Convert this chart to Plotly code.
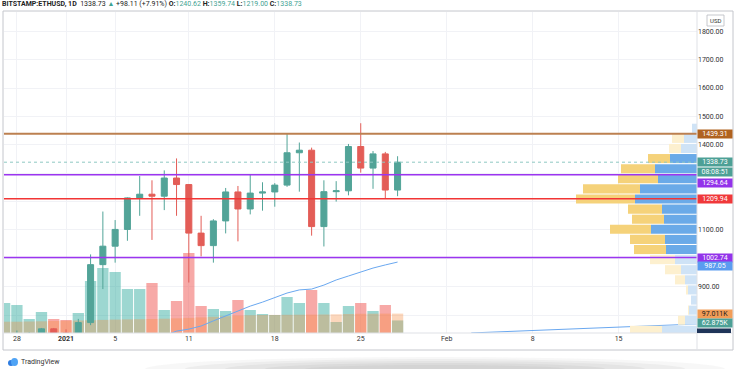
import plotly.graph_objects as go
import pandas as pd

# ---------------- data ----------------
dates = pd.date_range("2020-12-27", "2021-01-28", freq="D")
open_ = [636, 684, 731, 732, 752, 737, 730, 774, 978, 1043, 1102, 1213, 1226, 1219, 1283, 1260,
         1089, 1045, 1132, 1234, 1174, 1230, 1234, 1258, 1372, 1381, 1112, 1235, 1238, 1394,
         1318, 1368, 1240.62]
high = [690, 746, 740, 755, 755, 750, 787, 1014, 1165, 1135, 1215, 1290, 1275, 1310, 1352, 1262,
        1150, 1138, 1248, 1255, 1296, 1268, 1265, 1440, 1408, 1390, 1275, 1272, 1403, 1476,
        1378, 1375, 1359.74]
low = [622, 682, 692, 716, 718, 716, 715, 765, 892, 985, 1062, 1150, 1065, 1170, 1150, 915,
       1007, 985, 1088, 1060, 1155, 1168, 1182, 1252, 1235, 1080, 1042, 1200, 1222, 1302,
       1245, 1210, 1219.00]
close = [684, 731, 732, 752, 737, 730, 774, 978, 1043, 1102, 1213, 1226, 1219, 1283, 1260, 1089,
         1045, 1132, 1234, 1174, 1230, 1234, 1258, 1372, 1381, 1112, 1235, 1238, 1394, 1318,
         1368, 1240.62, 1338.73]
volume = [150, 140, 70, 105, 70, 65, 100, 260, 325, 305, 220, 220, 250, 115, 160, 400,
          135, 120, 110, 165, 115, 95, 90, 180, 150, 215, 150, 55, 135, 150,
          110, 140, 62.875]  # thousands
volume_ma = [56.5, 56.5, 57.5, 58.5, 60, 61, 62.5, 64, 65.5, 67, 68, 69, 70, 71.5, 73.5, 75.5,
             78, 81, 84, 87, 89, 90, 90.5, 91, 91.5, 92, 92.5, 93.5, 95, 96,
             96.5, 97, 97.011]

ma_dates = pd.date_range("2021-01-08", "2021-01-28", freq="D")
ma_values = [710, 727, 744, 751, 762, 780, 797, 815, 832, 846, 861, 878, 889, 892, 906, 924,
             938, 952, 966, 977, 987.05]

line2_dates = ["2021-02-03", "2021-02-22"]
line2_values = [737.5, 770]

levels = {"1439.31": (1439.31, "#bc8050", 2.0, "#b0621f"),
          "1294.64": (1294.64, "#9b35f0", 1.5, "#9333ea"),
          "1209.94": (1209.94, "#f23535", 1.5, "#f0383a"),
          "1002.74": (1002.74, "#9b35f0", 1.5, "#9333ea")}
last_price = 1338.73
countdown = "08:08:51"

# volume profile (visible range), rows from top
profile_top = 1476.0
profile_step = 35.58
profile_down = [0, 12, 12, 22, 34, 40, 57, 59, 34, 32, 41, 35, 32, 25, 16, 10, 2, 0, 1, 7, 32]
profile_up = [5, 13, 16, 27, 42, 39, 57, 62, 35, 33, 46, 32, 31, 22, 16, 12, 9, 6, 8, 12, 35]
profile_unit = 20  # thousands per unit
va_high, va_low = 1369, 1013

price_ticks = [800, 900, 1000, 1100, 1200, 1300, 1400, 1500, 1600, 1700, 1800]
price_ticktext = ["", "900.00", "", "1100.00", "", "", "1400.00", "1500.00", "1600.00", "1700.00", "1800.00"]
time_ticks = ["2020-12-28", "2021-01-01", "2021-01-05", "2021-01-11", "2021-01-18", "2021-01-25",
              "2021-02-01", "2021-02-08", "2021-02-15"]
time_ticktext = ["28", "<b>2021</b>", "5", "11", "18", "25", "Feb", "8", "15"]

# ---------------- figure ----------------
W, H = 736, 369
ML, MR, MT, MB = 4, 39, 12, 36
PW, PH = W - ML - MR, H - MT - MB
def px_x(p):
    return (p - ML) / PW
def px_y(p):
    return (H - MB - p) / PH

FONT = "Roboto, Open Sans, sans-serif"
UP, DN = "#52a498", "#e35d57"
day_ms = 86400000

fig = go.Figure()

vol_colors = ["rgba(38,166,154,0.45)" if c >= o else "rgba(239,83,80,0.5)" for o, c in zip(open_, close)]
fig.add_trace(go.Bar(x=dates, y=volume, width=day_ms * 0.92, marker=dict(color=vol_colors, line_width=0),
                     xaxis="x", yaxis="y"))
fig.add_trace(go.Bar(x=dates, y=volume_ma, width=day_ms * 0.92,
                     marker=dict(color="rgba(247,140,64,0.35)", line_width=0), xaxis="x", yaxis="y"))

fig.add_trace(go.Candlestick(x=dates, open=open_, high=high, low=low, close=close,
                             increasing=dict(line=dict(color=UP, width=1), fillcolor=UP),
                             decreasing=dict(line=dict(color=DN, width=1), fillcolor=DN),
                             whiskerwidth=0, xaxis="x", yaxis="y2"))
fig.add_trace(go.Scatter(x=ma_dates, y=ma_values, mode="lines", line=dict(color="#6aa8f0", width=1),
                         xaxis="x", yaxis="y2"))
fig.add_trace(go.Scatter(x=pd.to_datetime(line2_dates), y=line2_values, mode="lines",
                         line=dict(color="#6aa8f0", width=1), xaxis="x", yaxis="y2"))

centers = [profile_top - profile_step * (i + 0.5) for i in range(len(profile_up))]
in_va = [va_low <= c <= va_high for c in centers]
blue_c = ["#6aaae8" if v else "#cfe3f6" for v in in_va]
yel_c = ["#f5d27a" if v else "#fdf0cf" for v in in_va]
up_v = [u * profile_unit for u in profile_up]
dn_v = [d * profile_unit for d in profile_down]
fig.add_trace(go.Bar(y=centers, x=up_v, orientation="h", width=profile_step * 0.9,
                     marker=dict(color=blue_c, line_width=0), xaxis="x2", yaxis="y2"))
fig.add_trace(go.Bar(y=centers, x=dn_v, base=up_v, orientation="h", width=profile_step * 0.9,
                     marker=dict(color=yel_c, line_width=0), xaxis="x2", yaxis="y2"))

shapes = []
# horizontal levels
for name, (val, col, wdt, _) in levels.items():
    shapes.append(dict(type="line", xref="paper", x0=0, x1=1, yref="y2", y0=val, y1=val,
                       line=dict(color=col, width=wdt), layer="above"))
shapes.append(dict(type="line", xref="paper", x0=0, x1=1, yref="y2", y0=last_price, y1=last_price,
                   line=dict(color="#8ec9c2", width=1, dash="dot"), layer="above"))
# frame
grey = "#c4c6cc"
shapes.append(dict(type="rect", xref="paper", yref="paper", x0=px_x(3), x1=px_x(733), y0=px_y(350), y1=px_y(11),
                   line=dict(color=grey, width=1), layer="above"))
shapes.append(dict(type="line", xref="paper", yref="paper", x0=1, x1=1, y0=px_y(350), y1=px_y(11),
                   line=dict(color="#dfe1e6", width=1), layer="above"))
shapes.append(dict(type="line", xref="paper", yref="paper", x0=px_x(3), x1=px_x(733), y0=0, y1=0,
                   line=dict(color="#dfe1e6", width=1), layer="above"))
# USD box
shapes.append(dict(type="rect", xref="paper", yref="paper", x0=px_x(707), x1=px_x(724), y0=px_y(26), y1=px_y(15),
                   line=dict(color="#b8bac0", width=0.8), fillcolor="white", layer="above"))
# bottom navy label (cut)
shapes.append(dict(type="rect", xref="paper", yref="paper", x0=1, x1=px_x(731), y0=0, y1=px_y(328.5),
                   line_width=0, fillcolor="#1f3458", layer="above"))
# shadow
for rx, ry, op in [(290, 12, 0.05), (250, 10, 0.06), (210, 8, 0.06), (170, 6, 0.06), (130, 4, 0.05)]:
    shapes.append(dict(type="circle", xref="paper", yref="paper", x0=px_x(435 - rx), x1=px_x(435 + rx),
                       y0=px_y(369 + ry), y1=px_y(369 - ry), line_width=0,
                       fillcolor="rgba(90,90,90,%s)" % op, layer="below"))
# logo
shapes.append(dict(type="circle", xref="paper", yref="paper", x0=px_x(8), x1=px_x(14), y0=px_y(366), y1=px_y(360),
                   line_width=0, fillcolor="#2f7de1", layer="above"))
shapes.append(dict(type="circle", xref="paper", yref="paper", x0=px_x(11), x1=px_x(18), y0=px_y(366), y1=px_y(358),
                   line_width=0, fillcolor="#4fa3f5", layer="above"))

ann = []
def label(text, y, yref, bg, fc="white", yshift=0):
    ann.append(dict(text=text, x=1, xref="paper", xanchor="left", y=y, yref=yref, yanchor="middle",
                    yshift=yshift, showarrow=False, bgcolor=bg, width=34, height=8, align="center",
                    borderpad=0, font=dict(family=FONT, size=7, color=fc)))

label("1439.31", 1439.31, "y2", levels["1439.31"][3])
label("%.2f" % last_price, last_price, "y2", "#4da096")
label(countdown, last_price, "y2", "#4da096", yshift=-9.5)
label("1294.64", 1294.64, "y2", levels["1294.64"][3], yshift=-8)
label("1209.94", 1209.94, "y2", levels["1209.94"][3])
label("1002.74", 1002.74, "y2", levels["1002.74"][3])
label("%.2f" % ma_values[-1], ma_values[-1], "y2", "#5a9cf0", yshift=-4)
label("%.3fK" % volume_ma[-1], volume_ma[-1], "y", "#f29d58", fc="#1c1c1c")
label("%.3fK" % volume[-1], volume[-1], "y", "#4da096", yshift=-3)

ann.append(dict(text="USD", x=px_x(715.5), y=px_y(20.5), xref="paper", yref="paper", showarrow=False,
                font=dict(family=FONT, size=6, color="#333"), xanchor="center", yanchor="middle"))
teal = "#3fa393"
header = ("<b>BITSTAMP:ETHUSD, 1D</b>  1338.73 <span style='color:%s'>▲</span> +98.11 (+7.91%%) "
          "<b>O:</b><span style='color:%s'>1240.62</span> <b>H:</b><span style='color:%s'>1359.74</span> "
          "<b>L:</b><span style='color:%s'>1219.00</span> <b>C:</b><span style='color:%s'>1338.73</span>"
          % (teal, teal, teal, teal, teal))
ann.append(dict(text=header, x=px_x(0), y=px_y(4), xref="paper", yref="paper", showarrow=False,
                xanchor="left", yanchor="middle", font=dict(family=FONT, size=7, color="#222")))
ann.append(dict(text="TradingView", x=px_x(19), y=px_y(362), xref="paper", yref="paper", showarrow=False,
                xanchor="left", yanchor="middle", font=dict(family=FONT, size=7, color="#333")))

fig.update_layout(
    width=W, height=H, margin=dict(l=ML, r=MR, t=MT, b=MB),
    paper_bgcolor="white", plot_bgcolor="white", showlegend=False,
    barmode="overlay", hovermode=False,
    font=dict(family=FONT, size=7, color="#333"),
    xaxis=dict(type="date", range=["2020-12-26 22:47", "2021-02-21 09:11"], rangeslider=dict(visible=False),
               tickvals=pd.to_datetime(time_ticks), ticktext=time_ticktext, showgrid=True, gridcolor="#f1f2f6",
               zeroline=False, showline=False, ticks="", tickfont=dict(size=7, color="#333")),
    xaxis2=dict(overlaying="x", range=[PW * profile_unit, 0], visible=False, anchor="y2"),
    yaxis=dict(range=[0, 1605], visible=False, fixedrange=True),
    yaxis2=dict(overlaying="y", side="right", range=[737.3, 1867.6], tickvals=price_ticks,
                ticktext=price_ticktext, showgrid=True, gridcolor="#f1f2f6", zeroline=False, showline=False,
                ticks="", tickfont=dict(size=7, color="#333")),
    shapes=shapes, annotations=ann,
)

fig.write_html("out.html", config={"displayModeBar": False},
               post_script="document.body.style.margin='0px';document.body.style.overflow='hidden';")
